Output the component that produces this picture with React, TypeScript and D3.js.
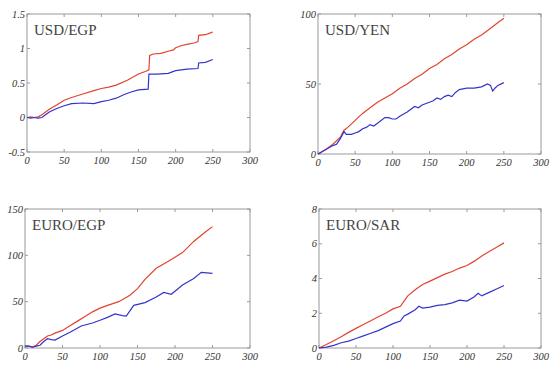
import React from "react";
import * as d3 from "d3";

// ---------- data ----------
const egpUsdRedX = [0, 5, 10, 15, 20, 25, 30, 40, 50, 60, 75, 90, 100, 110, 120, 135, 150, 160, 164, 165, 170, 180, 190, 197, 200, 207, 215, 225, 230, 231, 240, 245, 250];
const egpUsdRedY = [0, 0.01, 0, 0.01, 0.04, 0.08, 0.12, 0.18, 0.25, 0.29, 0.34, 0.39, 0.42, 0.44, 0.47, 0.54, 0.63, 0.67, 0.69, 0.9, 0.92, 0.93, 0.96, 0.98, 1.01, 1.04, 1.06, 1.08, 1.1, 1.19, 1.2, 1.22, 1.24];
const egpUsdBlueX = [0, 5, 10, 15, 20, 25, 30, 40, 50, 60, 75, 90, 100, 110, 120, 130, 140, 150, 163, 164, 175, 190, 200, 215, 230, 231, 240, 250];
const egpUsdBlueY = [0, -0.01, 0, -0.01, 0, 0.04, 0.08, 0.13, 0.17, 0.2, 0.21, 0.2, 0.23, 0.25, 0.28, 0.33, 0.37, 0.4, 0.41, 0.63, 0.63, 0.64, 0.68, 0.7, 0.71, 0.79, 0.8, 0.84];

const yenRedX = [0, 10, 20, 30, 35, 40, 50, 60, 70, 80, 90, 100, 110, 120, 130, 140, 150, 160, 170, 180, 190, 200, 210, 220, 230, 240, 250];
const yenRedY = [0, 3, 7, 12, 17, 19, 24, 29, 33, 37, 40, 43, 47, 50, 54, 57, 61, 64, 68, 71, 75, 78, 82, 85, 89, 93, 97];
const yenBlueX = [0, 10, 20, 25, 30, 35, 38, 45, 50, 55, 60, 65, 70, 75, 80, 90, 95, 100, 105, 110, 120, 130, 135, 140, 150, 155, 160, 165, 170, 175, 180, 185, 190, 200, 210, 220, 228, 232, 235, 238, 242, 250];
const yenBlueY = [0, 3, 6, 7, 11, 16, 14, 14, 15, 16, 18, 19, 21, 20, 22, 26, 26, 25, 25, 27, 30, 34, 33, 35, 37, 38, 40, 39, 41, 42, 41, 44, 46, 47, 47, 48, 50, 49, 45, 47, 49, 51];

const euroEgpRedX = [0, 5, 10, 15, 20, 25, 30, 35, 40, 50, 60, 70, 80, 90, 100, 110, 125, 140, 150, 160, 175, 190, 200, 210, 225, 240, 250];
const euroEgpRedY = [2, 2, 1, 3, 7, 10, 13, 14, 16, 19, 24, 29, 34, 39, 43, 46, 50, 57, 64, 74, 86, 93, 98, 103, 115, 125, 131];
const euroEgpBlueX = [0, 5, 10, 15, 20, 25, 30, 35, 40, 50, 60, 75, 90, 100, 110, 120, 130, 135, 145, 160, 175, 185, 195, 210, 225, 235, 250];
const euroEgpBlueY = [2, 2, 1, 2, 3, 7, 10, 9, 8.6, 13, 17, 23.7, 27, 30, 33, 36.7, 35, 34.5, 46, 49, 55, 60, 58, 68, 75, 81.6, 80.5];

const euroSarRedX = [0, 10, 20, 30, 40, 50, 60, 70, 80, 90, 100, 110, 115, 120, 130, 140, 150, 160, 170, 180, 190, 200, 210, 220, 230, 240, 250];
const euroSarRedY = [0, 0.2, 0.42, 0.65, 0.9, 1.13, 1.35, 1.57, 1.8, 2.0, 2.25, 2.4, 2.7, 3.0, 3.35, 3.65, 3.85, 4.05, 4.25, 4.4, 4.6, 4.75, 5.0, 5.3, 5.55, 5.8, 6.05];
const euroSarBlueX = [0, 10, 20, 30, 40, 50, 60, 70, 80, 90, 100, 110, 115, 120, 130, 135, 140, 150, 160, 170, 180, 190, 200, 210, 215, 220, 230, 240, 250];
const euroSarBlueY = [0, 0.05, 0.15, 0.3, 0.4, 0.55, 0.7, 0.85, 1.0, 1.2, 1.4, 1.55, 1.85, 1.95, 2.2, 2.4, 2.3, 2.35, 2.45, 2.5, 2.6, 2.75, 2.7, 2.95, 3.15, 3.0, 3.2, 3.4, 3.6];

const xTicks = [0, 50, 100, 150, 200, 250, 300];
const titles = ["USD/EGP", "USD/YEN", "EURO/EGP", "EURO/SAR"];
const yDomains: [number, number][] = [[-0.5, 1.5], [0, 100], [0, 150], [0, 8]];
const yTickSets = [[-0.5, 0, 0.5, 1, 1.5], [0, 50, 100], [0, 50, 100, 150], [0, 2, 4, 6, 8]];
const yTickLabels = [["-0.5", "0", "0.5", "1", "1.5"], ["0", "50", "100"], ["0", "50", "100", "150"], ["0", "2", "4", "6", "8"]];

const RED = "#e2432f";
const BLUE = "#3434cc";
const SERIF = "'Liberation Serif', 'Times New Roman', 'DejaVu Serif', serif";

const boxes = [
  { l: 27, t: 14, r: 250, b: 152 },
  { l: 318, t: 14, r: 541, b: 154 },
  { l: 25, t: 209, r: 250, b: 348 },
  { l: 319, t: 209, r: 541, b: 348 },
];

const seriesList = [
  [[egpUsdRedX, egpUsdRedY], [egpUsdBlueX, egpUsdBlueY]],
  [[yenRedX, yenRedY], [yenBlueX, yenBlueY]],
  [[euroEgpRedX, euroEgpRedY], [euroEgpBlueX, euroEgpBlueY]],
  [[euroSarRedX, euroSarRedY], [euroSarBlueX, euroSarBlueY]],
];

const tickStyle: React.CSSProperties = { fontFamily: SERIF, fontStyle: "italic", fontSize: "10.5px" };
const titleStyle: React.CSSProperties = { fontFamily: SERIF, fontSize: "15px" };

function Panel({ i }: { i: number }) {
  const bx = boxes[i];
  const x = d3.scaleLinear().domain([0, 300]).range([bx.l, bx.r]);
  const y = d3.scaleLinear().domain(yDomains[i]).range([bx.b, bx.t]);
  const line = d3
    .line<[number, number]>()
    .x((d) => x(d[0]))
    .y((d) => y(d[1]));
  const colors = [RED, BLUE];
  const tl = 3;
  return (
    <g>
      <rect x={bx.l} y={bx.t} width={bx.r - bx.l} height={bx.b - bx.t} fill="#fff" stroke="#9a9a9a" strokeWidth={1} />
      {xTicks.map((t) => (
        <g key={"x" + t}>
          <line x1={x(t)} x2={x(t)} y1={bx.b} y2={bx.b - tl} stroke="#9a9a9a" />
          <line x1={x(t)} x2={x(t)} y1={bx.t} y2={bx.t + tl} stroke="#9a9a9a" />
          <text x={x(t)} y={bx.b + 12} textAnchor="middle" style={tickStyle} fill="#333">
            {t}
          </text>
        </g>
      ))}
      {yTickSets[i].map((t, k) => (
        <g key={"y" + t}>
          <line x1={bx.l} x2={bx.l + tl} y1={y(t)} y2={y(t)} stroke="#9a9a9a" />
          <line x1={bx.r} x2={bx.r - tl} y1={y(t)} y2={y(t)} stroke="#9a9a9a" />
          <text x={bx.l - 2} y={y(t) + 3.5} textAnchor="end" style={tickStyle} fill="#333">
            {yTickLabels[i][k]}
          </text>
        </g>
      ))}
      {seriesList[i].map((s, k) => {
        const pts: [number, number][] = s[0].map((xv, j) => [xv, s[1][j]]);
        return <path key={k} d={line(pts) || ""} fill="none" stroke={colors[k]} strokeWidth={1.2} />;
      })}
      <text x={bx.l + 7} y={bx.t + 21} style={titleStyle} fill="#444">
        {titles[i]}
      </text>
    </g>
  );
}

export default function App() {
  return (
    <svg width={552} height={369} style={{ position: "absolute", left: 0, top: 0, background: "#fff" }}>
      <rect x={0} y={0} width={552} height={369} fill="#fff" />
      {[0, 1, 2, 3].map((i) => (
        <Panel key={i} i={i} />
      ))}
    </svg>
  );
}
